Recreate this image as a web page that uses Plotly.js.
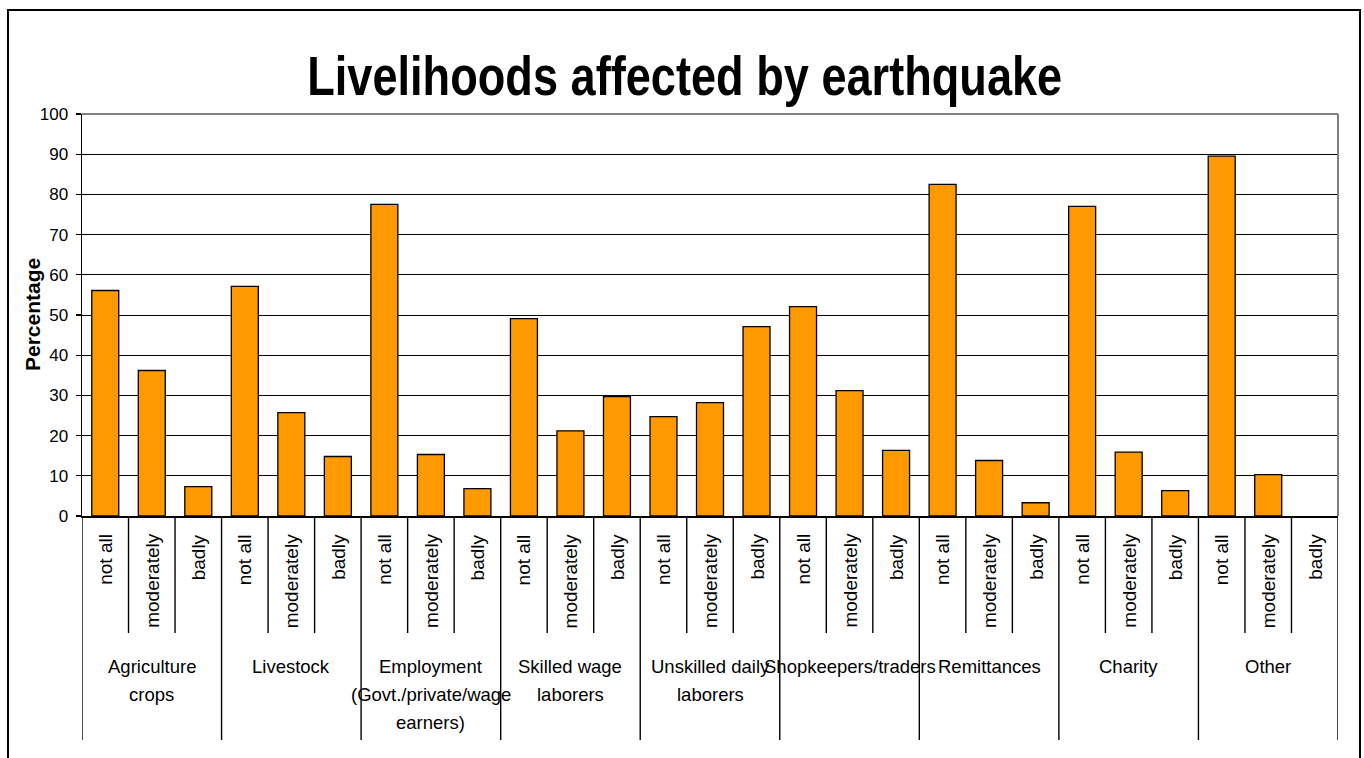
<!DOCTYPE html>
<html>
<head>
<meta charset="utf-8">
<script src="https://cdn.plot.ly/plotly-3.0.1.min.js"></script>
<style>
html,body{margin:0;padding:0;background:#fff;}
#chart{width:1364px;height:758px;}
</style>
</head>
<body>
<div id="chart"></div>
<script>
// ---- data ----
const groups = ['Agriculture<br>crops', 'Livestock', 'Employment<br>(Govt./private/wage<br>earners)',
  'Skilled wage<br>laborers', 'Unskilled daily<br>laborers', 'Shopkeepers/traders',
  'Remittances', 'Charity', 'Other'];
const levels = ['not all', 'moderately', 'badly'];
const notAll     = [56.1, 57.1, 77.5, 49.1, 24.7, 52.1, 82.5, 77.0, 89.5];
const moderately = [36.2, 25.7, 15.3, 21.2, 28.2, 31.2, 13.8, 15.9, 10.3];
const badly      = [7.3, 14.8, 6.8, 29.7, 47.1, 16.3, 3.3, 6.3, 0];
const yTicks = [0, 10, 20, 30, 40, 50, 60, 70, 80, 90, 100];

// ---- font detection ----
function hasFont(name) {
  const c = document.createElement('canvas').getContext('2d');
  const s = 'abcdefghijklmnopqrstuvwxyzABCDEFGHIJ0123456789';
  c.font = '40px monospace';
  const w1 = c.measureText(s).width;
  c.font = '40px "' + name + '", monospace';
  return c.measureText(s).width !== w1;
}
const narrowOK = hasFont('Liberation Sans Narrow');
const NARROW = narrowOK ? '"Liberation Sans Narrow", "Liberation Sans", Arial, sans-serif'
                        : '"Liberation Sans", Arial, sans-serif';
const REG = '"Liberation Sans", Arial, sans-serif';

// ---- build series ----
const series = [notAll, moderately, badly];
const xs = [], ys = [];
groups.forEach((g, gi) => {
  levels.forEach((l, li) => {
    xs.push(gi * levels.length + li);
    ys.push(series[li][gi]);
  });
});
const nCat = xs.length;

const trace = {
  type: 'bar', x: xs, y: ys,
  marker: {color: '#FF9900', line: {color: '#000000', width: ys.map(v => v > 0 ? 1.3 : 0)}},
  hoverinfo: 'x+y'
};

// paper coords from pixel offsets (plot area: top 114, bottom 516)
const TOP = 114, BOT = 516, H = BOT - TOP;
const L = 82, R = 1338, W = R - L;
const py = px => (BOT - px) / H;
const pxX = px => (px - L) / W;

const annotations = [];
const shapes = [];
const lineCenters = [666, 694, 722];
groups.forEach((g, gi) => {
  levels.forEach((l, li) => {
    const xi = gi * levels.length + li;
    annotations.push({
      x: xi, xref: 'x', y: py(532), yref: 'paper',
      text: l, textangle: -90, showarrow: false,
      xanchor: 'center', yanchor: 'top',
      font: {family: REG, size: 19, color: '#000'}
    });
    if (li > 0) {
      shapes.push({type: 'line', xref: 'x', yref: 'paper',
        x0: xi - 0.5, x1: xi - 0.5, y0: 0, y1: py(633),
        line: {color: '#000', width: 1.4}});
    }
  });
  g.split('<br>').forEach((part, k) => {
    annotations.push({
      x: gi * levels.length + (levels.length - 1) / 2, xref: 'x',
      y: py(lineCenters[k]), yref: 'paper', text: part, showarrow: false,
      xanchor: 'center', yanchor: 'middle', align: 'center',
      font: {family: NARROW, size: narrowOK ? 21 : 18.5, color: '#000'}
    });
  });
});
// y axis title as annotation for exact placement
annotations.push({
  x: pxX(32), xref: 'paper', y: 0.5, yref: 'paper',
  text: '<b>Percentage</b>', textangle: -90, showarrow: false,
  xanchor: 'center', yanchor: 'middle',
  font: {family: REG, size: 21, color: '#000'}
});
for (let gi = 0; gi <= groups.length; gi++) {
  shapes.push({type: 'line', xref: 'x', yref: 'paper',
    x0: gi * levels.length - 0.5, x1: gi * levels.length - 0.5, y0: 0, y1: py(740),
    line: {color: '#000', width: 1.4}});
}
// plot area top/right border (gray)
shapes.push({type: 'line', xref: 'paper', yref: 'paper', x0: 0, x1: 1, y0: 1, y1: 1,
  line: {color: '#808080', width: 2}});
shapes.push({type: 'line', xref: 'paper', yref: 'paper', x0: 1, x1: 1, y0: 0, y1: 1,
  line: {color: '#808080', width: 2}});
// outer chart border
shapes.push({type: 'rect', xref: 'paper', yref: 'paper',
  x0: pxX(8), x1: pxX(1360), y0: py(790), y1: py(10),
  line: {color: '#000', width: 2}, fillcolor: 'rgba(0,0,0,0)', layer: 'below'});

const layout = {
  width: 1364, height: 758,
  margin: {l: L, r: 1364 - R, t: TOP, b: 758 - BOT, pad: 0},
  paper_bgcolor: '#fff', plot_bgcolor: '#fff',
  showlegend: false,
  bargap: 0.42,
  title: {
    text: '<b>Livelihoods affected by earthquake</b>',
    font: {family: NARROW, size: 55, color: '#000'},
    x: 0.502, xref: 'container', xanchor: 'center',
    y: 1 - 76 / 758, yref: 'container', yanchor: 'middle'
  },
  xaxis: {
    range: [-0.5, nCat - 0.5], showticklabels: false, showgrid: false,
    zeroline: false, showline: true, linecolor: '#000', linewidth: 1.5,
    ticks: '', fixedrange: true
  },
  yaxis: {
    range: [0, 100], tickvals: yTicks, ticktext: yTicks.map(String),
    showgrid: true, gridcolor: '#000', gridwidth: 1,
    zeroline: false, showline: true, linecolor: '#000', linewidth: 1.5,
    ticks: 'outside', ticklen: 5, tickcolor: '#000', tickwidth: 1.3,
    ticklabelstandoff: 4,
    tickfont: {family: REG, size: 17, color: '#000'},
    fixedrange: true
  },
  annotations: annotations,
  shapes: shapes
};

Plotly.newPlot('chart', [trace], layout, {staticPlot: true, displayModeBar: false}).then(() => {
  const t = document.querySelector('.gtitle');
  if (t) {
    t.setAttribute('textLength', '755');
    t.setAttribute('lengthAdjust', 'spacingAndGlyphs');
  }
});
</script>
</body>
</html>
